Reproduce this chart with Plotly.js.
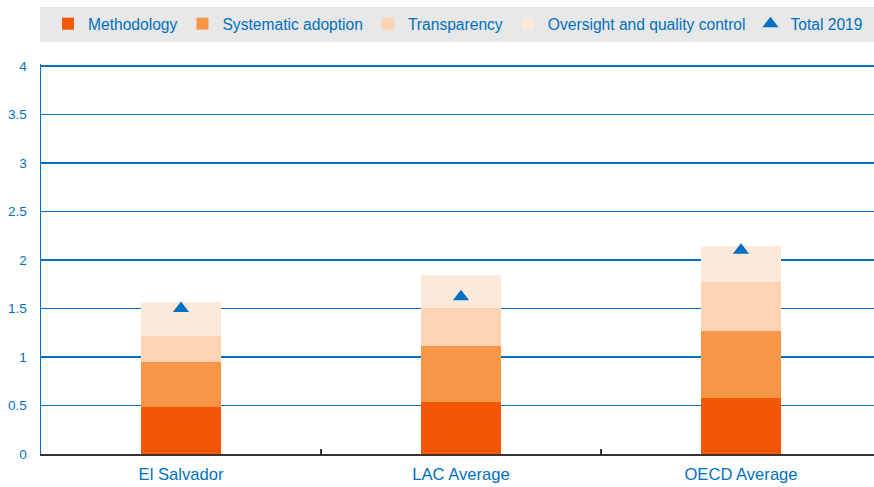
<!DOCTYPE html>
<html>
<head>
<meta charset="utf-8">
<script src="https://cdn.plot.ly/plotly-3.0.1.min.js"></script>
<style>html,body{margin:0;padding:0;background:#fff;}#chart{width:874px;height:487px;}</style>
</head>
<body>
<div id="chart"></div>
<script>
var categories = ["El Salvador", "LAC Average", "OECD Average"];
var methodology = [0.48, 0.54, 0.58];
var systematicAdoption = [0.47, 0.57, 0.69];
var transparency = [0.27, 0.40, 0.50];
var oversight = [0.35, 0.33, 0.37];
var total2019 = [1.50, 1.62, 2.10];
var yTicks = [0, 0.5, 1, 1.5, 2, 2.5, 3, 3.5, 4];
var yTickText = ["0", "0.5", "1", "1.5", "2", "2.5", "3", "3.5", "4"];

var FONT = '"Liberation Sans", Arial, sans-serif';
var BLUE = '#0070C0';

function barTrace(name, vals, color) {
  return {type: 'bar', name: name, x: categories, y: vals,
    marker: {color: color, line: {width: 0}}, hoverinfo: 'skip'};
}

var data = [
  barTrace('Methodology', methodology, '#F45604'),
  barTrace('Systematic adoption', systematicAdoption, '#F79646'),
  barTrace('Transparency', transparency, '#FCD4B4'),
  barTrace('Oversight and quality control', oversight, '#FDE9DA'),
  {type: 'scatter', mode: 'markers', name: 'Total 2019', x: categories, y: total2019,
   marker: {symbol: 'triangle-up', size: 14, color: BLUE}, hoverinfo: 'skip'}
];

var layout = {
  width: 874, height: 487,
  margin: {l: 41, r: 0, t: 64, b: 33, pad: 0},
  paper_bgcolor: '#ffffff', plot_bgcolor: '#ffffff',
  font: {family: FONT, size: 16, color: BLUE},
  barmode: 'stack', bargap: 0.714,
  showlegend: true,
  legend: {orientation: 'h', traceorder: 'normal', xref: 'container', yref: 'container',
    x: 0.524, xanchor: 'center', y: 0.9507, yanchor: 'middle', itemwidth: 30,
    bgcolor: 'rgba(0,0,0,0)', font: {family: FONT, size: 15.6, color: BLUE}},
  xaxis: {type: 'category', range: [-0.5, 2.475], tickson: 'boundaries', ticks: 'inside',
    ticklen: 5, tickwidth: 1.5, tickcolor: '#333', showline: true, linecolor: '#333', linewidth: 2,
    ticklabelstandoff: 4,
    showgrid: false, zeroline: false, tickfont: {family: FONT, size: 16.6, color: BLUE}, fixedrange: true},
  yaxis: {range: [0, 4.02], tickvals: yTicks, ticktext: yTickText, showgrid: true, gridcolor: BLUE,
    gridwidth: 1.6, zeroline: false, showline: true, linecolor: BLUE, linewidth: 1.5, ticks: '',
    ticklabelstandoff: 10, tickfont: {family: FONT, size: 13.5, color: BLUE}, fixedrange: true},
  shapes: [{type: 'rect', xref: 'paper', yref: 'paper', x0: -0.0012, x1: 1, y0: 1.057, y1: 1.146,
    fillcolor: '#E8E8E8', line: {width: 0}, layer: 'below'}]
};

Plotly.newPlot('chart', data, layout, {displayModeBar: false, staticPlot: true});
</script>
</body>
</html>
